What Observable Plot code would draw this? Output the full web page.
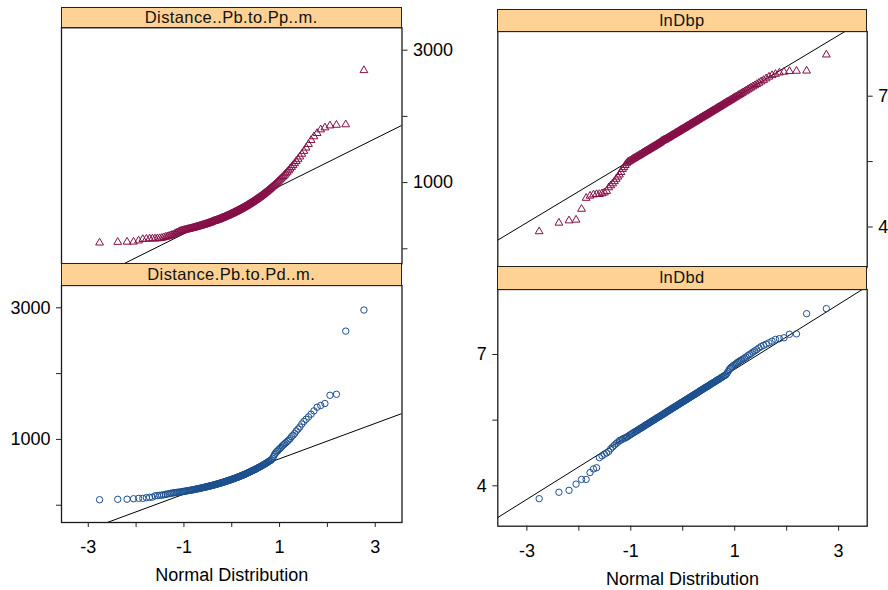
<!DOCTYPE html>
<html><head><meta charset="utf-8">
<script src="https://cdn.jsdelivr.net/npm/d3@7"></script>
<script src="https://cdn.jsdelivr.net/npm/@observablehq/plot@0.6"></script>
<style>
body{margin:0;background:#fff;}
#wrap{position:relative;width:888px;height:590px;font-family:"Liberation Sans",Arial,sans-serif;}
#wrap svg{position:absolute;left:0;top:0;}
.strip{position:absolute;box-sizing:border-box;background:#FED295;border:1.3px solid #222;font-size:16.5px;letter-spacing:0.4px;text-align:center;color:#111;}
</style></head><body><div id="wrap"></div>
<script>
// Sorted sample values (metres)
const distPp = [
 46, 56, 59, 60, 77, 99, 104, 107, 108, 108, 110, 112, 116, 126, 132, 138, 145, 153, 161, 169, 179, 192, 200,
 210, 219, 226, 230, 234, 238, 242, 246, 250, 254, 258, 261, 265, 269, 273, 277, 281, 285, 289, 292,
 296, 300, 304, 308, 312, 316, 319, 323, 327, 331, 335, 339, 343, 347, 351, 355, 363, 366, 370, 374,
 376, 379, 385, 388, 392, 396, 400, 405, 409, 415, 418, 422, 426, 431, 437, 440, 445, 449, 454, 459,
 463, 470, 473, 478, 483, 488, 493, 498, 504, 508, 514, 520, 524, 530, 536, 541, 548, 553, 558, 565,
 570, 576, 583, 589, 595, 601, 609, 616, 622, 629, 636, 643, 650, 657, 665, 672, 680, 688, 696, 705,
 713, 722, 731, 738, 748, 757, 767, 778, 788, 799, 807, 819, 830, 842, 855, 867, 880, 894, 904, 918,
 933, 948, 964, 980, 997, 1014, 1032, 1051, 1070, 1092, 1114, 1137, 1162, 1188, 1215, 1245, 1277, 1310,
 1346, 1387, 1430, 1480, 1534, 1595, 1650, 1700, 1755, 1785, 1815, 1825, 1832, 2650
];
const distPd = [
 38, 44, 46, 53, 59, 59, 69, 75, 77, 97, 101, 105, 108, 112, 119, 124, 129, 134, 138, 143, 145, 148, 151,
 152, 155, 158, 161, 164, 167, 170, 173, 176, 178, 181, 184, 187, 190, 192, 195, 198, 201, 204, 207,
 209, 212, 215, 218, 221, 224, 226, 229, 232, 235, 238, 241, 244, 246, 249, 252, 255, 258, 261, 264,
 267, 270, 273, 277, 280, 283, 286, 289, 292, 296, 299, 302, 305, 309, 312, 315, 319, 322, 326, 329,
 333, 336, 340, 344, 347, 350, 355, 359, 362, 366, 370, 374, 378, 383, 386, 390, 395, 399, 403, 407,
 413, 417, 421, 426, 431, 435, 442, 446, 451, 457, 462, 467, 473, 478, 484, 490, 494, 500, 506, 513,
 520, 526, 533, 538, 545, 553, 561, 569, 577, 582, 591, 600, 609, 618, 628, 634, 645, 668, 693, 724,
 747, 767, 780, 801, 816, 831, 855, 871, 888, 905, 924, 943, 964, 996, 1019, 1045, 1082, 1112,
 1143, 1189, 1228, 1261, 1297, 1338, 1388, 1444, 1470, 1500, 1625, 1640, 2600, 2920
];
const lnDbp = distPp.map(Math.log);
const lnDbd = distPd.map(Math.log);

const panelNames = ["Distance..Pb.to.Pp..m.", "lnDbp", "Distance.Pb.to.Pd..m.", "lnDbd"];
const xTicks = [-3, -2, -1, 0, 1, 2, 3];
const xTickLabels = ["-3", "", "-1", "", "1", "", "3"];
const yTicksDist = [0, 1000, 2000, 3000];
const yTickLabelsDist = ["", "1000", "", "3000"];
const yTicksLn = [4, 5.5, 7];
const yTickLabelsLn = ["4", "", "7"];
const xLabel = "Normal Distribution";
const colTri = "#860F47";
const colCirc = "#1B4F8E";
const FONT = "Liberation Sans, Arial, sans-serif";

function qnorm(p){
  const a=[-3.969683028665376e+01,2.209460984245205e+02,-2.759285104469687e+02,1.383577518672690e+02,-3.066479806614716e+01,2.506628277459239e+00];
  const b=[-5.447609879822406e+01,1.615858368580409e+02,-1.556989798598866e+02,6.680131188771972e+01,-1.328068155288572e+01];
  const c=[-7.784894002430293e-03,-3.223964580411365e-01,-2.400758277161838e+00,-2.549732539343734e+00,4.374664141464968e+00,2.938163982698783e+00];
  const d=[7.784695709041462e-03,3.224671290700398e-01,2.445134137142996e+00,3.754408661907416e+00];
  const pl=0.02425, ph=1-pl; let q,r;
  if(p<pl){q=Math.sqrt(-2*Math.log(p));return (((((c[0]*q+c[1])*q+c[2])*q+c[3])*q+c[4])*q+c[5])/((((d[0]*q+d[1])*q+d[2])*q+d[3])*q+1);}
  if(p>ph){q=Math.sqrt(-2*Math.log(1-p));return -(((((c[0]*q+c[1])*q+c[2])*q+c[3])*q+c[4])*q+c[5])/((((d[0]*q+d[1])*q+d[2])*q+d[3])*q+1);}
  q=p-0.5;r=q*q;
  return (((((a[0]*r+a[1])*r+a[2])*r+a[3])*r+a[4])*r+a[5])*q/(((((b[0]*r+b[1])*r+b[2])*r+b[3])*r+b[4])*r+1);
}
function qq(values){
  const s = values.slice().sort((x,y)=>x-y), n = s.length;
  return s.map((v,i)=>({q: qnorm((i+0.5)/n), v}));
}
function qqline(values, xd, yd){
  const q1 = d3.quantile(values, 0.25), q3 = d3.quantile(values, 0.75);
  const z1 = qnorm(0.25), z3 = qnorm(0.75);
  const b = (q3-q1)/(z3-z1), a = q1 - b*z1;
  let pts = [xd[0], xd[1]].map(x=>({x, y:a+b*x}));
  pts = pts.map(p=>{
    if(p.y>yd[1]) return {x:(yd[1]-a)/b, y:yd[1]};
    if(p.y<yd[0]) return {x:(yd[0]-a)/b, y:yd[0]};
    return p;
  });
  return pts;
}

const W = 888, H = 590;
const panels = [
  {name: panelNames[0], data: distPp, frame:{l:61, r:401.5, t:27.3, b:263.3}, xd:[-3.56,3.56], yd:[-272,3293],
   yAnchor:"right", yt:yTicksDist, yl:yTickLabelsDist, sym:"triangle", col:colTri, r:2.9, xaxis:false,
   strip:{l:60.5, t:7, r:402, b:27.9}},
  {name: panelNames[1], data: lnDbp, frame:{l:497.3, r:866.7, t:31, b:266.7}, xd:[-3.56,3.55], yd:[3.009,8.415],
   yAnchor:"right", yt:yTicksLn, yl:yTickLabelsLn, sym:"triangle", col:colTri, r:2.9, xaxis:false,
   strip:{l:496.8, t:9, r:867.3, b:31.6}},
  {name: panelNames[2], data: distPd, frame:{l:61, r:401.5, t:285, b:522}, xd:[-3.56,3.56], yd:[-308,3293],
   yAnchor:"left", yt:yTicksDist, yl:yTickLabelsDist, sym:"circle", col:colCirc, r:3.2, xaxis:true,
   strip:{l:60.5, t:262.7, r:402, b:285.6}},
  {name: panelNames[3], data: lnDbd, frame:{l:497.3, r:866.7, t:289, b:525.7}, xd:[-3.56,3.55], yd:[3.009,8.416],
   yAnchor:"left", yt:yTicksLn, yl:yTickLabelsLn, sym:"circle", col:colCirc, r:3.2, xaxis:true,
   strip:{l:496.8, t:266.2, r:867.3, b:289.6}}
];

const wrap = document.getElementById("wrap");
const xMap = new Map(xTicks.map((t,i)=>[t, xTickLabels[i]]));

for (const p of panels){
  const yMap = new Map(p.yt.map((t,i)=>[t, p.yl[i]]));
  const marks = [
    Plot.frame({stroke:"#1a1a1a", strokeWidth:1.3}),
    Plot.line(qqline(p.data, p.xd, p.yd), {x:"x", y:"y", stroke:"#000", strokeWidth:1, clip:true}),
    Plot.dot(qq(p.data), {x:"q", y:"v", symbol:p.sym, r:p.r, stroke:p.col, fill:"none", strokeWidth:1}),
    Plot.axisY({anchor:p.yAnchor, ticks:p.yt, tickFormat:d=>yMap.get(d), tickSize:5, tickPadding:6, dy:3, label:null,
      stroke:"#222", fill:"#000", fontSize:18, fontFamily:FONT, fontVariant:"normal"})
  ];
  if (p.xaxis){
    marks.push(Plot.axisX({anchor:"bottom", ticks:xTicks, tickFormat:d=>xMap.get(d), tickSize:5, tickPadding:13, label:null,
      stroke:"#222", fill:"#000", fontSize:18, fontFamily:FONT, fontVariant:"normal"}));
    marks.push(Plot.text([xLabel], {text:d=>d, frameAnchor:"bottom", dy:53, lineAnchor:"middle", fill:"#000", fontSize:18, fontFamily:FONT}));
  }
  const svg = Plot.plot({
    width: W, height: H,
    marginLeft: p.frame.l, marginRight: W - p.frame.r, marginTop: p.frame.t, marginBottom: H - p.frame.b,
    x: {domain: p.xd, axis: null},
    y: {domain: p.yd, axis: null},
    style: {fontSize:"18px", fontFamily:FONT, background:"transparent", overflow:"visible"},
    marks
  });
  wrap.appendChild(svg);
  const s = document.createElement("div");
  s.className = "strip";
  s.style.left = p.strip.l + "px"; s.style.top = p.strip.t + "px";
  s.style.width = (p.strip.r - p.strip.l) + "px"; s.style.height = (p.strip.b - p.strip.t) + "px";
  s.style.lineHeight = (p.strip.b - p.strip.t - 2.6) + "px";
  s.textContent = p.name;
  wrap.appendChild(s);
}
</script></body></html>
